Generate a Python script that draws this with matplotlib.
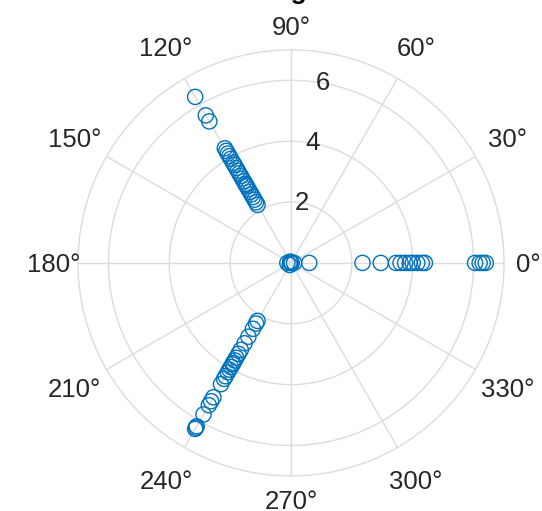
import numpy as np
import matplotlib
matplotlib.use("Agg")
import matplotlib.pyplot as plt

plt.rcParams['font.family'] = ['Liberation Sans', 'DejaVu Sans']

# Magnitudes grouped by direction (degrees)
origin_r = [0.0, 0.0, 0.0, 0.02, 0.05, 0.08, 0.1, 0.12]
origin_theta = [0, 120, 240, 0, 120, 240, 0, 180]

arm0_theta = 0
arm0_r = [0.6, 2.35, 2.95, 3.45, 3.6, 3.75, 3.9, 4.0, 4.15, 4.3, 4.4,
          6.05, 6.2, 6.3, 6.4]

arm120_theta = 120
arm120_r = [6.3, 5.6, 5.37, 4.35, 4.25, 4.15, 4.05, 3.95, 3.8, 3.72, 3.6,
            3.5, 3.4, 3.3, 3.2, 3.1, 3.0, 2.95, 2.9, 2.8, 2.7, 2.6, 2.5,
            2.4, 2.3, 2.2]

arm240_theta = 240
arm240_r = [2.2, 2.3, 2.5, 2.8, 3.05, 3.3, 3.45, 3.6, 3.7, 3.8, 3.85, 3.95,
            4.05, 4.15, 4.3, 4.4, 4.6, 5.1, 5.25, 5.4, 5.75, 6.2, 6.25, 6.3]

theta_ticks = list(range(0, 360, 30))
r_ticks = [2, 4, 6]
r_max = 7

title_text = "Three-Angle Data"

theta = np.concatenate([
    np.deg2rad(origin_theta),
    np.full(len(arm0_r), np.deg2rad(arm0_theta)),
    np.full(len(arm120_r), np.deg2rad(arm120_theta)),
    np.full(len(arm240_r), np.deg2rad(arm240_theta)),
])
r = np.concatenate([origin_r, arm0_r, arm120_r, arm240_r])

fig = plt.figure(figsize=(5.42, 5.11), dpi=100)
ax = fig.add_axes([0.1439, 0.0685, 0.786, 0.834], projection='polar')

grid_color = '#dcdcdc'
text_color = '#262626'
fs = 18.5

ax.scatter(theta, r, s=120, facecolors='none', edgecolors='#0072BD',
           linewidths=1.0, zorder=3)

ax.set_ylim(0, r_max)
ax.set_yticks(r_ticks)
ax.set_yticklabels([str(v) for v in r_ticks], fontsize=fs, color=text_color,
                   ha='center', va='center')
ax.set_rlabel_position(80)

# Angle labels sit just outside the outer ring; diagonal labels a bit farther
ax.set_xticks(np.deg2rad(theta_ticks))
ax.set_xticklabels([])
for t in theta_ticks:
    rad = np.deg2rad(t)
    r_lab = r_max * (1.113 + 0.07 * abs(np.sin(2 * rad)))
    ax.text(rad, r_lab, f"{t}\u00b0", fontsize=fs, color=text_color,
            ha='center', va='center_baseline', clip_on=False)

ax.grid(True, color=grid_color, linewidth=1.0)
ax.spines['polar'].set_color(grid_color)
ax.spines['polar'].set_linewidth(1.0)

fig.text(0.525, 1.002, title_text, ha='center', va='baseline', fontsize=19,
         fontweight='bold', color='#000000')

fig.savefig("out.png", dpi=100)
